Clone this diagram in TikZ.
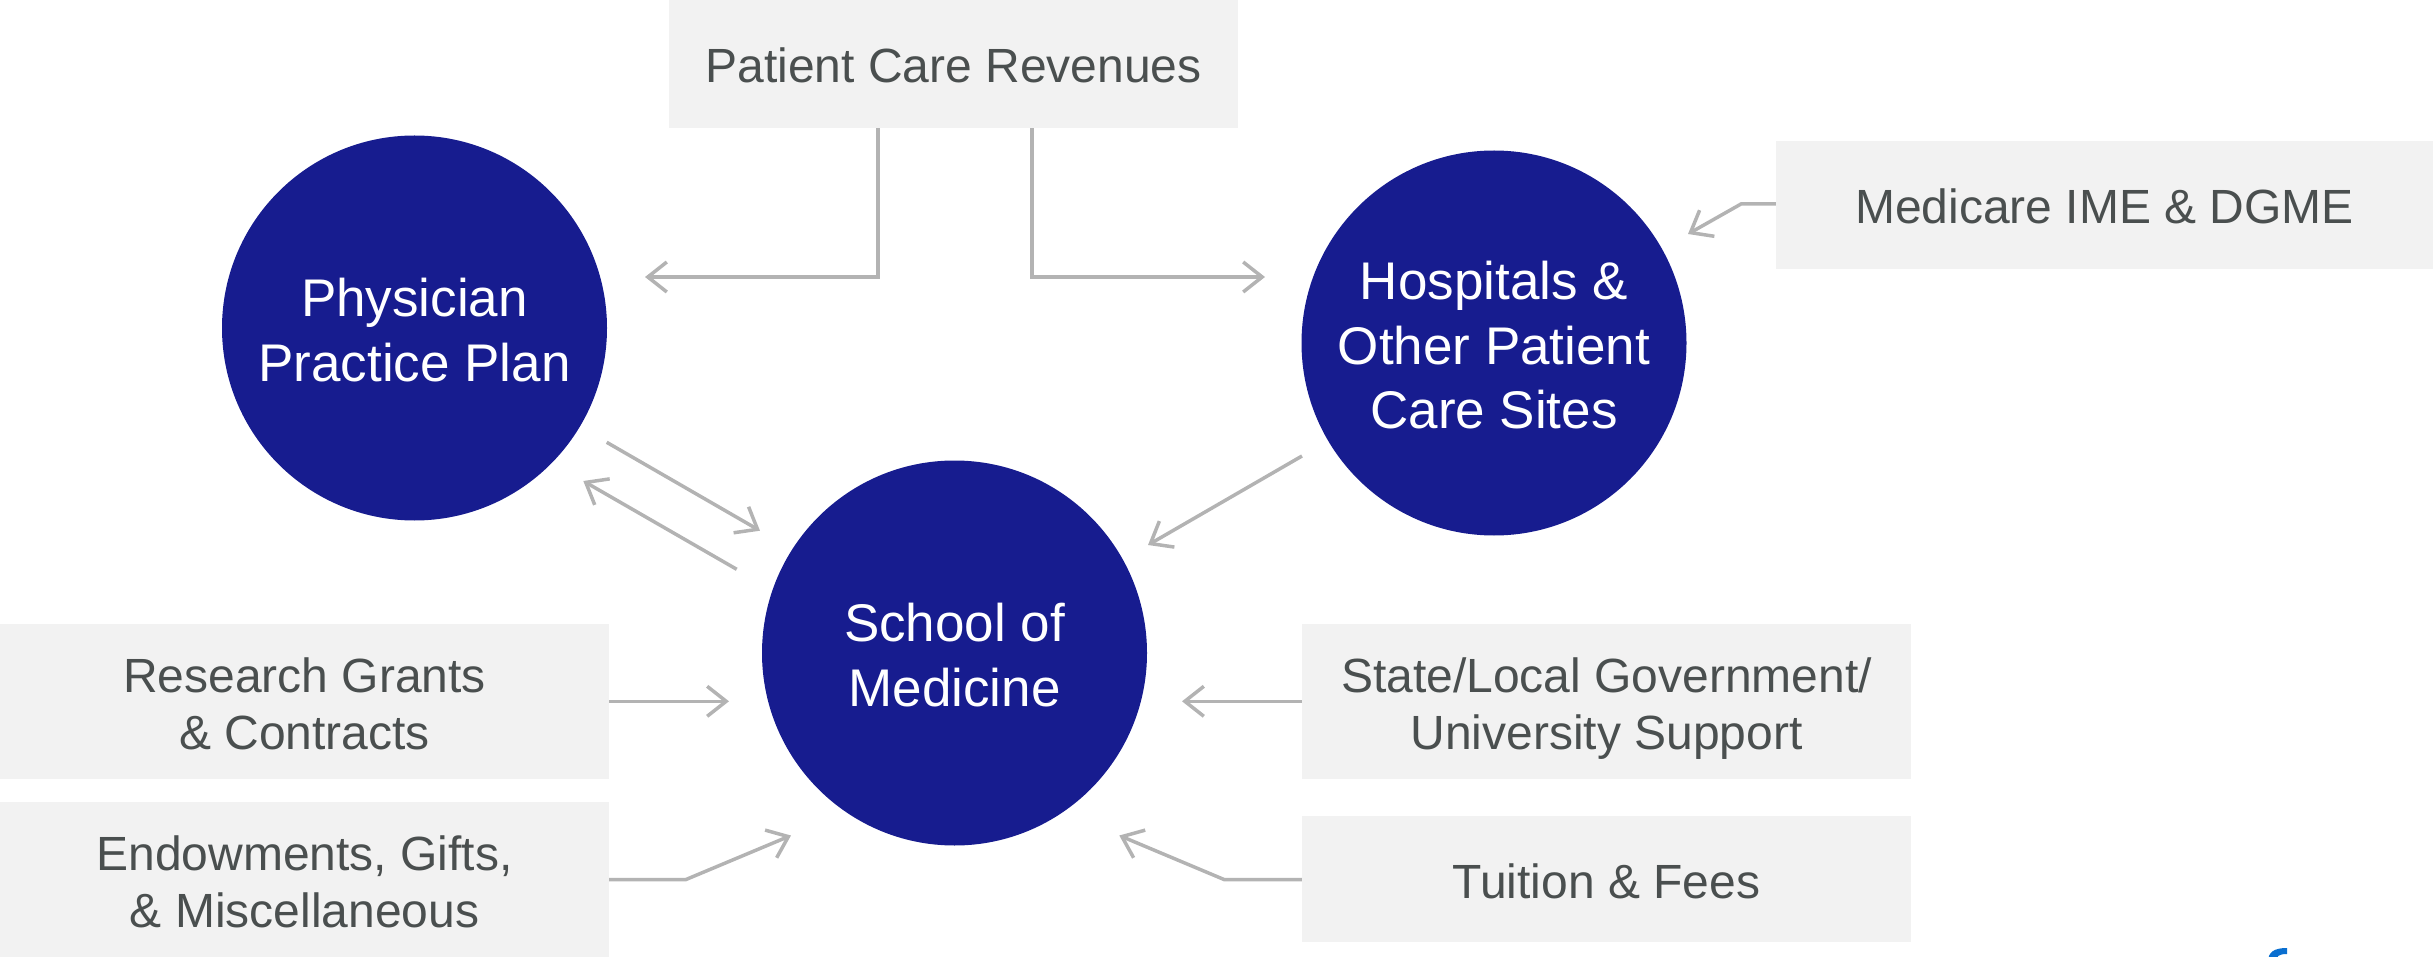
\documentclass[tikz,border=0pt]{standalone}
\usepackage{fontspec}
\setmainfont{Liberation Sans}
\usetikzlibrary{arrows.meta}
\definecolor{navy}{HTML}{171C8F}
\definecolor{boxgray}{HTML}{F2F2F2}
\definecolor{txtgray}{HTML}{4A4F4F}
\definecolor{linegray}{HTML}{B3B3B3}
\definecolor{logoblue}{HTML}{0A6FD0}
\newcommand\boxtop{\rule{0pt}{48pt}}
\newcommand\boxbot{\rule[-10pt]{0pt}{10pt}}
\newcommand\hubtop{\rule{0pt}{54pt}}
\newcommand\hubbot{\rule[-12pt]{0pt}{12pt}}
\tikzset{
  hub/.style={circle,fill=navy,text=white,minimum size=385pt,inner sep=0pt,align=center,font=\fontsize{53}{64.5}\selectfont},
  srcbox/.style={rectangle,fill=boxgray,text=txtgray,inner sep=0pt,align=center,font=\fontsize{48}{57}\selectfont},
  flow/.style={draw=linegray,line width=3.5pt,-{Straight Barb[length=19pt,width=30pt,line width=3.5pt]}}
}
\begin{document}
\begin{tikzpicture}[x=1pt,y=-1pt]
\useasboundingbox (0,0) rectangle (2433,957);
\node[hub] (ppp) at (414.5,328) {\hubtop Physician\\Practice Plan\hubbot};
\node[hub] (hosp) at (1494,343) {\hubtop Hospitals \&\\Other Patient\\Care Sites\hubbot};
\node[hub] (som) at (954.5,653) {\hubtop School of\\Medicine\hubbot};
\node[srcbox,minimum width=569pt,minimum height=128pt] (rev) at (953.5,64) {\boxtop Patient Care Revenues\boxbot};
\node[srcbox,minimum width=657pt,minimum height=128pt] (ime) at (2104.5,205) {\boxtop Medicare IME \& DGME\boxbot};
\node[srcbox,minimum width=609pt,minimum height=155pt] (res) at (304.5,701.5) {\boxtop Research Grants\\\& Contracts\boxbot};
\node[srcbox,minimum width=609pt,minimum height=155pt] (end) at (304.5,879.5) {\boxtop Endowments, Gifts,\\\& Miscellaneous\boxbot};
\node[srcbox,minimum width=609pt,minimum height=155pt] (gov) at (1606.5,701.5) {\boxtop State/Local Government/\\University Support\boxbot};
\node[srcbox,minimum width=609pt,minimum height=126pt] (tui) at (1606.5,879) {\boxtop Tuition \& Fees\boxbot};
\coordinate (tA) at (645,277);
\coordinate (tB) at (1265,277);
\coordinate (c1) at (878,277);
\coordinate (c2) at (1032,277);
\coordinate (tC) at (1688,234);
\coordinate (c3) at (1741,204);
\coordinate (s1) at (606.7,442.3);
\coordinate (t1) at (760,530.7);
\coordinate (s2) at (736.7,569.3);
\coordinate (t2) at (583.3,481);
\coordinate (s3) at (1302,456);
\coordinate (t3) at (1148,545);
\coordinate (t4) at (729,701.3);
\coordinate (t5) at (1182,701.3);
\coordinate (c6) at (686,879.5);
\coordinate (t6) at (791,835.5);
\coordinate (c7) at (1224,879.5);
\coordinate (t7) at (1119.3,835.5);
\draw[flow] (rev.south -| c1) -- (c1) -- (tA);
\draw[flow] (rev.south -| c2) -- (c2) -- (tB);
\draw[flow] (ime.west |- c3) -- (c3) -- (tC);
\draw[flow] (s1) -- (t1);
\draw[flow] (s2) -- (t2);
\draw[flow] (s3) -- (t3);
\draw[flow] (res.east |- t4) -- (t4);
\draw[flow] (gov.west |- t5) -- (t5);
\draw[flow] (end.east |- c6) -- (c6) -- (t6);
\draw[flow] (tui.west |- c7) -- (c7) -- (t7);
\clip (0,0) rectangle (2433,957);
\fill[logoblue] (2268,962) .. controls (2268,952) and (2274,948) .. (2287,948) -- (2287,954) .. controls (2279,954) and (2276,956) .. (2276,962) -- cycle;
\end{tikzpicture}
\end{document}
